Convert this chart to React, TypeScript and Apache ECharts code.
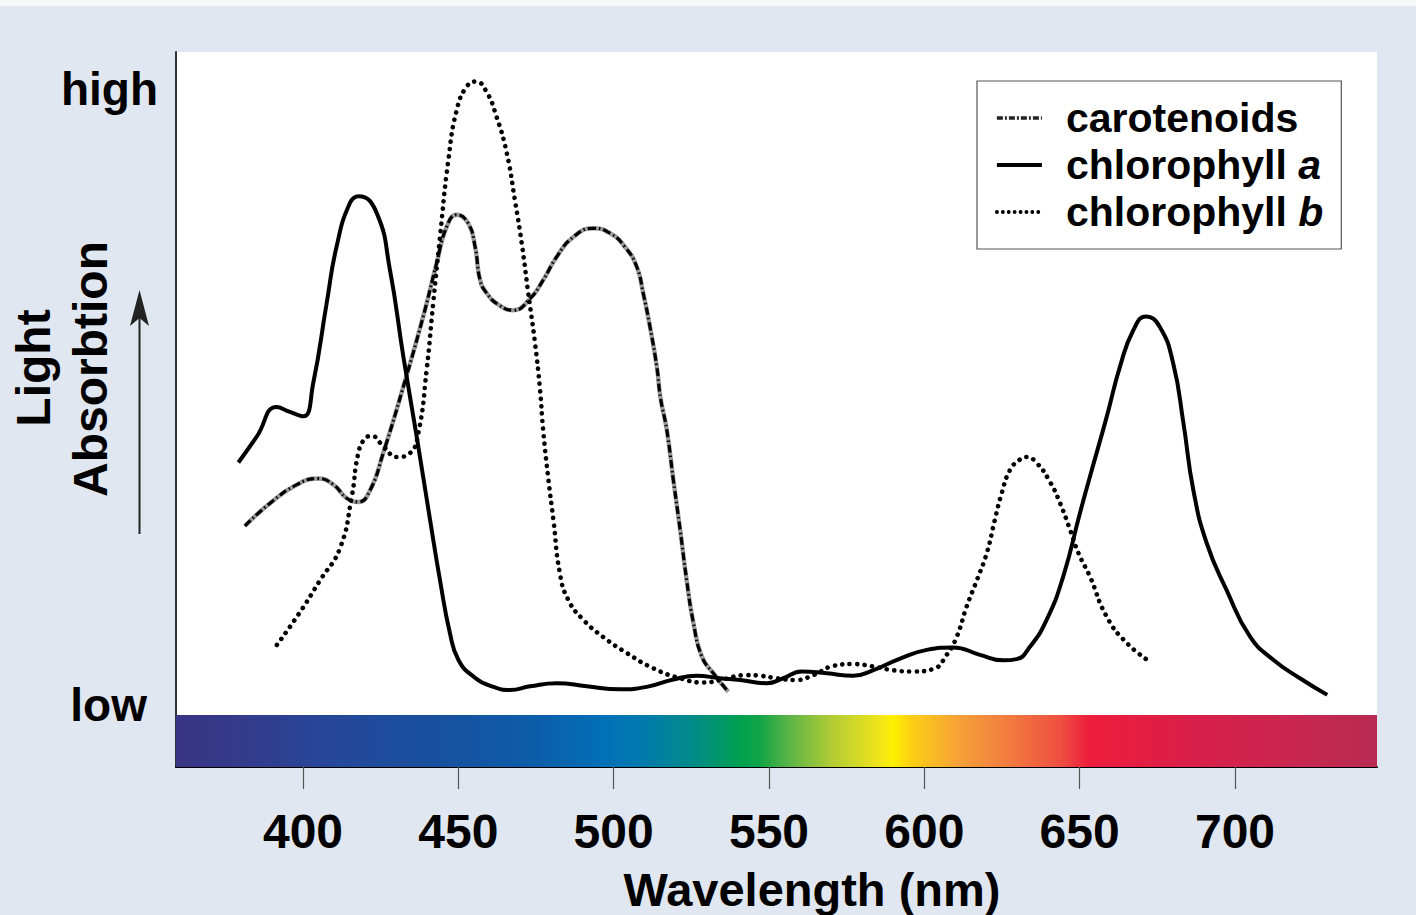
import React, { useEffect, useRef } from "react";
import * as echarts from "echarts";

// ---- Data (wavelength nm, relative absorption) ----
const X_TICKS = [400, 450, 500, 550, 600, 650, 700];
const Y_LABELS: Record<number, string> = { 0: "low", 100: "high" };
const LEGEND_NAMES = ["carotenoids", "chlorophyll a", "chlorophyll b"];

const chlorophyllA: [number, number][] = [
  [379.2, 39.4], [385.1, 43.6], [391.5, 48.4], [395.8, 47.6], [400.1, 46.9], [403.3, 52.3],
  [407.6, 65.2], [410.8, 74.4], [415.1, 81.5], [418.0, 82.6], [423.7, 79.9], [428.0, 70.6],
  [432.3, 56.6], [436.6, 43.6], [440.9, 30.1], [444.1, 20.3], [447.3, 11.7], [450.0, 7.4],
  [454.8, 4.7], [461.3, 3.0], [466.6, 2.5], [473.1, 3.1], [481.7, 3.6], [491.3, 3.1],
  [502.0, 2.6], [510.6, 3.0], [519.2, 4.2], [526.7, 4.8], [534.2, 4.4], [540.7, 4.1],
  [549.3, 3.6], [554.6, 4.4], [560.5, 5.5], [568.6, 5.2], [577.1, 4.8], [583.6, 5.7],
  [592.2, 7.6], [600.8, 9.0], [609.3, 9.4], [617.9, 8.2], [625.4, 7.3], [629.7, 7.5],
  [634.0, 9.5], [639.4, 13.9], [644.7, 20.9], [650.1, 31.2], [653.3, 37.1], [658.7, 46.8],
  [663.0, 55.0], [667.3, 60.9], [671.3, 63.1], [675.8, 61.4], [680.1, 55.5], [683.4, 45.8],
  [686.6, 34.9], [690.9, 26.3], [697.3, 18.7], [704.8, 11.2], [712.3, 7.4], [720.9, 4.4],
  [729.7, 1.7],
];

const chlorophyllB: [number, number][] = [
  [391.6, 9.8], [399.0, 15.1], [405.5, 20.3], [411.9, 25.5], [415.7, 33.9], [417.8, 40.9],
  [420.0, 43.3], [422.1, 43.7], [425.9, 42.0], [430.2, 40.3], [434.4, 40.9], [437.1, 44.1],
  [439.8, 54.4], [441.9, 65.2], [444.1, 76.0], [446.8, 88.5], [449.5, 96.6], [452.7, 100.4],
  [455.7, 101.2], [459.0, 99.6], [462.3, 95.5], [465.6, 89.6], [468.2, 82.0], [470.4, 75.0],
  [472.5, 66.9], [474.7, 58.7], [476.3, 51.2], [477.3, 44.7], [479.0, 36.6], [480.6, 30.1],
  [482.7, 21.4], [485.4, 17.1], [490.2, 13.9], [496.6, 11.1], [504.2, 8.5], [512.8, 6.0],
  [521.4, 4.4], [528.9, 3.7], [534.2, 4.1], [542.8, 4.9], [547.1, 4.8], [552.5, 4.4],
  [558.4, 4.1], [564.3, 4.9], [570.7, 6.4], [577.1, 6.7], [583.6, 6.3], [590.0, 5.7],
  [596.4, 5.5], [602.9, 5.9], [607.2, 8.2], [610.4, 11.1], [613.6, 16.0], [616.9, 20.3],
  [620.1, 24.7], [622.7, 30.1], [624.9, 34.4], [627.6, 38.2], [630.8, 39.9], [632.9, 40.3],
  [636.2, 39.3], [640.4, 36.3], [643.7, 32.8], [646.9, 28.5], [649.6, 24.7], [653.3, 20.9],
  [658.7, 14.4], [665.2, 10.1], [673.2, 6.9],
];

const carotenoids: [number, number][] = [
  [381.3, 29.1], [389.4, 32.8], [398.0, 35.8], [404.9, 36.8], [409.8, 35.8], [414.1, 33.6],
  [417.8, 33.0], [421.6, 34.9], [425.8, 40.9], [432.3, 51.7], [438.7, 63.1], [443.0, 71.7],
  [446.3, 77.7], [449.5, 79.6], [453.2, 78.2], [455.4, 74.4], [457.0, 69.0], [459.1, 66.9],
  [462.9, 65.0], [467.7, 64.1], [473.1, 66.0], [477.3, 69.0], [481.7, 72.8], [487.0, 76.0],
  [493.4, 77.4], [498.8, 76.6], [503.6, 74.4], [507.4, 71.2], [509.5, 66.9], [511.7, 61.4],
  [513.9, 54.9], [515.1, 49.8], [517.1, 44.7], [519.2, 36.6], [521.4, 28.5], [523.5, 20.3],
  [525.7, 13.3], [528.4, 7.9], [532.1, 5.2], [536.9, 2.2],
];

// axis extents
const X_MIN = 359.12;
const X_MAX = 745.71;
const Y_MIN = -10;
const Y_MAX = 106;
const SPECTRUM_TOP = -1.56;

const SPECTRUM_STOPS: [number, string][] = [
  [0, "#3a3585"], [0.053, "#343a8a"], [0.128, "#26479a"], [0.228, "#16529f"],
  [0.303, "#0c5ea9"], [0.356, "#0270b8"], [0.386, "#0279af"], [0.428, "#008a8c"],
  [0.47, "#00a050"], [0.486, "#12a548"], [0.511, "#5cb546"], [0.545, "#b0cb35"],
  [0.587, "#f2e61a"], [0.597, "#fff000"], [0.611, "#fcd114"], [0.653, "#f6a038"],
  [0.694, "#f17a3f"], [0.736, "#ef5040"], [0.761, "#ed1c3c"], [0.853, "#d8204a"],
  [0.936, "#c82850"], [1, "#b82a52"],
];

const FONT = '"Liberation Sans", Arial, Helvetica, sans-serif';

export default function App() {
  const ref = useRef<HTMLDivElement>(null);

  useEffect(() => {
    document.body.style.margin = "0";
    if (!ref.current) return;
    const chart = echarts.init(ref.current, undefined, { renderer: "svg" });

    const gradient = new echarts.graphic.LinearGradient(
      0, 0, 1, 0,
      SPECTRUM_STOPS.map(([offset, color]) => ({ offset, color }))
    );

    const SMOOTH = 0.5;
    const dotted = { color: "#000", width: 4.6, type: [0.1, 7.4], cap: "round" };
    const carotDash = { color: "#000", width: 3.2, type: [8, 3, 1.5, 3] };

    chart.setOption({
      animation: false,
      backgroundColor: "#e1e7f0",
      textStyle: { fontFamily: FONT },
      grid: {
        left: 176, right: 39, top: 52, bottom: 148,
        show: true, backgroundColor: "#ffffff", borderWidth: 0,
      },
      legend: {
        orient: "vertical",
        left: 977,
        top: 81,
        padding: [14, 18, 14, 18],
        itemGap: 1,
        itemWidth: 45,
        itemHeight: 14,
        backgroundColor: "#ffffff",
        borderColor: "#555",
        borderWidth: 1.2,
        borderRadius: 0,
        itemStyle: { color: "transparent", borderWidth: 0, opacity: 0 },
        selectedMode: false,
        data: [
          { name: LEGEND_NAMES[0], lineStyle: { color: "#222", width: 3.4, type: [6, 2, 2, 2] } },
          { name: LEGEND_NAMES[1], lineStyle: { color: "#000", width: 3.8, type: "solid" } },
          { name: LEGEND_NAMES[2], lineStyle: { color: "#000", width: 3.8, type: [0.1, 5.8], cap: "round" } },
        ],
        formatter: (name: string) => {
          if (name === "chlorophyll a") return "{n|chlorophyll }{i|a}";
          if (name === "chlorophyll b") return "{n|chlorophyll }{i|b}";
          return "{n|" + name + "}";
        },
        textStyle: {
          fontFamily: FONT,
          fontSize: 41,
          fontWeight: "bold",
          color: "#000",
          lineHeight: 46,
          padding: [0, 0, 0, 19],
          rich: {
            n: { fontFamily: FONT, fontSize: 41, fontWeight: "bold", color: "#000", lineHeight: 46 },
            i: { fontFamily: FONT, fontSize: 41, fontWeight: "bold", fontStyle: "italic", color: "#000", lineHeight: 46 },
          },
        },
      },
      xAxis: {
        type: "value",
        min: X_MIN,
        max: X_MAX,
        axisLine: { show: true, onZero: false, lineStyle: { color: "#000", width: 2 } },
        axisTick: {
          show: true,
          length: 22,
          customValues: X_TICKS,
          lineStyle: { color: "#555", width: 1.2 },
        },
        axisLabel: {
          customValues: X_TICKS,
          margin: 40,
          fontFamily: FONT,
          fontSize: 48,
          fontWeight: "bold",
          color: "#000",
        },
        splitLine: { show: false },
      },
      yAxis: {
        type: "value",
        min: Y_MIN,
        max: Y_MAX,
        axisLine: { show: true, onZero: false, lineStyle: { color: "#333", width: 2 } },
        axisTick: { show: false },
        splitLine: { show: false },
        axisLabel: {
          customValues: [0, 100],
          margin: 18,
          formatter: (v: number) => (v === 100 ? "{h|" + Y_LABELS[100] + "}" : "{l|" + Y_LABELS[0] + "}"),
          rich: {
            h: { fontFamily: FONT, fontSize: 46, fontWeight: "bold", color: "#000" },
            l: { fontFamily: FONT, fontSize: 46, fontWeight: "bold", color: "#000", padding: [0, 11, 0, 0] },
          },
        },
      },
      graphic: [
        { type: "rect", shape: { x: 0, y: 0, width: 1416, height: 6 }, style: { fill: "#f6f8fa" }, silent: true },
        {
          type: "text", x: 33, y: 368, rotation: Math.PI / 2,
          style: { text: "Light", fontFamily: FONT, fontSize: 48, fontWeight: "bold", fill: "#000", align: "center", verticalAlign: "middle" },
        },
        {
          type: "text", x: 90, y: 369, rotation: Math.PI / 2,
          style: { text: "Absorbtion", fontFamily: FONT, fontSize: 48, fontWeight: "bold", fill: "#000", align: "center", verticalAlign: "middle" },
        },
        {
          type: "text", x: 812, y: 889,
          style: { text: "Wavelength (nm)", fontFamily: FONT, fontSize: 47, fontWeight: "bold", fill: "#000", align: "center", verticalAlign: "middle" },
        },
        { type: "line", shape: { x1: 139.5, y1: 534, x2: 139.5, y2: 310 }, style: { stroke: "#222", lineWidth: 2 } },
        {
          type: "polygon",
          shape: { points: [[139.5, 290], [130, 326], [139.5, 318], [149, 326]] },
          style: { fill: "#222" },
        },
      ],
      series: [
        {
          name: "spectrum",
          type: "line",
          data: [],
          silent: true,
          markArea: {
            silent: true,
            itemStyle: { color: gradient, borderWidth: 0 },
            data: [[{ coord: [X_MIN, Y_MIN] }, { coord: [X_MAX, SPECTRUM_TOP] }]],
          },
        },
        {
          name: "carotenoids-base",
          type: "line",
          data: carotenoids,
          smooth: SMOOTH,
          symbol: "none",
          lineStyle: { color: "#999999", width: 4.4 },
          z: 2,
        },
        {
          name: "carotenoids",
          type: "line",
          data: carotenoids,
          smooth: SMOOTH,
          symbol: "none",
          lineStyle: carotDash,
          z: 3,
        },
        {
          name: "chlorophyll a",
          type: "line",
          data: chlorophyllA,
          smooth: SMOOTH,
          symbol: "none",
          lineStyle: { color: "#000", width: 4 },
          z: 4,
        },
        {
          name: "chlorophyll b",
          type: "line",
          data: chlorophyllB,
          smooth: SMOOTH,
          symbol: "none",
          lineStyle: dotted,
          z: 5,
        },
      ],
    });

    return () => chart.dispose();
  }, []);

  return (
    <div
      ref={ref}
      style={{ position: "fixed", left: 0, top: 0, width: 1416, height: 915 }}
    />
  );
}
